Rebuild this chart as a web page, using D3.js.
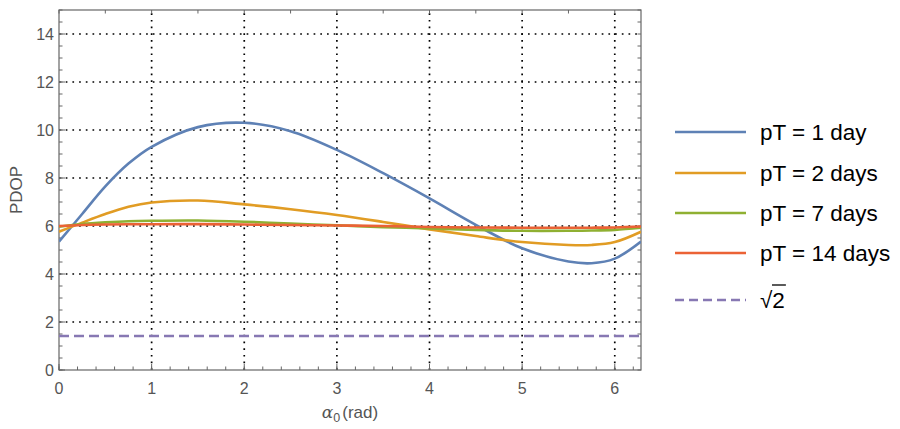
<!DOCTYPE html>
<html>
<head>
<meta charset="utf-8">
<script src="https://cdn.jsdelivr.net/npm/d3@7/dist/d3.min.js"></script>
<style>
  body { margin: 0; background: #fff; }
  text { font-family: "Liberation Sans", Arial, sans-serif; }
</style>
</head>
<body>
<script>
// sample positions (rad) and PDOP
var alphas = [0, 0.25, 0.5, 0.75, 1, 1.5, 2, 2.5, 3, 3.5, 4, 4.5, 5, 5.5, 5.75, 6, 2 * Math.PI];
var pdop1 = [5.35, 6.5, 7.65, 8.6, 9.3, 10.12, 10.3, 9.95, 9.17, 8.2, 7.15, 6.05, 5.07, 4.52, 4.45, 4.64, 5.35];
var pdop2 = [5.76, 6.14, 6.5, 6.8, 6.98, 7.06, 6.9, 6.7, 6.46, 6.17, 5.86, 5.58, 5.33, 5.21, 5.21, 5.33, 5.76];
var pdop7 = [5.97, 6.08, 6.15, 6.2, 6.22, 6.23, 6.18, 6.1, 6.03, 5.95, 5.9, 5.84, 5.8, 5.8, 5.81, 5.84, 5.93];
var pdop14 = [6.0, 6.04, 6.06, 6.07, 6.07, 6.08, 6.06, 6.04, 6.02, 6.0, 5.96, 5.94, 5.93, 5.93, 5.93, 5.94, 5.98];
var labels = ["pT = 1 day", "pT = 2 days", "pT = 7 days", "pT = 14 days"];
var colors = ["#5e81b5", "#e19c24", "#8fb032", "#eb6235"];
var refValue = Math.SQRT2;
var refColor = "#8778b3";

var xTicks = [0, 1, 2, 3, 4, 5, 6];
var yTicks = [0, 2, 4, 6, 8, 10, 12, 14];

var svgWidth = 900, svgHeight = 429;
var margin = {top: 10, left: 59, right: 259, bottom: 59};

var svg = d3.select("body").append("svg")
    .attr("width", svgWidth)
    .attr("height", svgHeight);

var x = d3.scaleLinear()
    .domain([0, 2 * Math.PI])
    .range([margin.left, svgWidth - margin.right]);

var y = d3.scaleLinear()
    .domain([0, 15])
    .range([svgHeight - margin.bottom, margin.top]);

var frameColor = "#666";
var labelColor = "#555";

// dotted grid
svg.append("g").selectAll("line.gx")
    .data(xTicks.filter(function(d){ return d > 0; }))
    .enter().append("line")
    .attr("x1", function(d){ return x(d); })
    .attr("x2", function(d){ return x(d); })
    .attr("y1", y(0)).attr("y2", y(15))
    .attr("stroke", "#000").attr("stroke-width", 1.7)
    .attr("stroke-dasharray", "1.7 5");

svg.append("g").selectAll("line.gy")
    .data(yTicks.filter(function(d){ return d > 0; }))
    .enter().append("line")
    .attr("y1", function(d){ return y(d); })
    .attr("y2", function(d){ return y(d); })
    .attr("x1", x(0)).attr("x2", x(2 * Math.PI))
    .attr("stroke", "#000").attr("stroke-width", 1.7)
    .attr("stroke-dasharray", "1.7 5");

// frame ticks (inward)
function tickLines(vals, side, len) {
    svg.append("g").selectAll("line")
        .data(vals)
        .enter().append("line")
        .attr("x1", function(d){ return side == "left" ? x(0) : side == "right" ? x(2*Math.PI) : x(d); })
        .attr("x2", function(d){ return side == "left" ? x(0) + len : side == "right" ? x(2*Math.PI) - len : x(d); })
        .attr("y1", function(d){ return side == "bottom" ? y(0) : side == "top" ? y(15) : y(d); })
        .attr("y2", function(d){ return side == "bottom" ? y(0) - len : side == "top" ? y(15) + len : y(d); })
        .attr("stroke", frameColor).attr("stroke-width", 1);
}
tickLines(d3.range(0, 6.3, 1), "bottom", 6);
tickLines(d3.range(0, 6.3, 0.2), "bottom", 3.5);
tickLines(d3.range(0, 15.01, 2), "left", 6);
tickLines(d3.range(0, 15.01, 0.5), "left", 3.5);
tickLines(d3.range(0, 6.3, 0.5), "top", 3.5);
tickLines(d3.range(0, 15.01, 0.5), "right", 3.5);

// frame
svg.append("rect")
    .attr("x", x(0)).attr("y", y(15))
    .attr("width", x(2 * Math.PI) - x(0))
    .attr("height", y(0) - y(15))
    .attr("fill", "none")
    .attr("stroke", frameColor).attr("stroke-width", 1.2);

// tick labels
svg.append("g").selectAll("text")
    .data(xTicks)
    .enter().append("text")
    .attr("x", function(d){ return x(d); })
    .attr("y", y(0) + 24)
    .attr("text-anchor", "middle")
    .attr("font-size", 16)
    .attr("fill", labelColor)
    .text(function(d){ return d; });

svg.append("g").selectAll("text")
    .data(yTicks)
    .enter().append("text")
    .attr("x", x(0) - 5)
    .attr("y", function(d){ return y(d) + 6; })
    .attr("text-anchor", "end")
    .attr("font-size", 16)
    .attr("fill", labelColor)
    .text(function(d){ return d; });

// axis titles
svg.append("text")
    .attr("transform", "translate(22," + 190 + ") rotate(-90)")
    .attr("text-anchor", "middle")
    .attr("font-size", 17)
    .attr("fill", labelColor)
    .text("PDOP");

var xt = svg.append("text")
    .attr("x", 350).attr("y", 418)
    .attr("text-anchor", "middle")
    .attr("font-size", 17)
    .attr("fill", labelColor);
xt.append("tspan").attr("font-style", "italic").attr("font-family", "DejaVu Serif").text("\u03b1");
xt.append("tspan").attr("font-size", 12.5).attr("dy", 4).text("0");
xt.append("tspan").attr("dy", -4).attr("dx", 2).text("(rad)");

// curves
var series = [pdop1, pdop2, pdop7, pdop14];
var line = d3.line()
    .x(function(d, i){ return x(alphas[i]); })
    .y(function(d){ return y(d); })
    .curve(d3.curveCatmullRom.alpha(0.5));

svg.append("clipPath").attr("id", "plotclip")
    .append("rect")
    .attr("x", x(0)).attr("y", y(15))
    .attr("width", x(2 * Math.PI) - x(0))
    .attr("height", y(0) - y(15));

var plot = svg.append("g").attr("clip-path", "url(#plotclip)");

series.forEach(function(s, i){
    plot.append("path")
        .datum(s)
        .attr("d", line)
        .attr("fill", "none")
        .attr("stroke", colors[i])
        .attr("stroke-width", 2.6);
});

plot.append("line")
    .attr("x1", x(0)).attr("x2", x(2 * Math.PI))
    .attr("y1", y(refValue)).attr("y2", y(refValue))
    .attr("stroke", refColor).attr("stroke-width", 2.6)
    .attr("stroke-dasharray", "10 5");

// legend
var legendY = [132, 173, 213, 253];
var legend = svg.append("g");
labels.forEach(function(l, i){
    legend.append("line")
        .attr("x1", 675).attr("x2", 746)
        .attr("y1", legendY[i]).attr("y2", legendY[i])
        .attr("stroke", colors[i]).attr("stroke-width", 2.6);
    legend.append("text")
        .attr("x", 760).attr("y", legendY[i] + 8)
        .attr("font-size", 22.5)
        .attr("fill", "#000")
        .text(l);
});
legend.append("line")
    .attr("x1", 675).attr("x2", 746)
    .attr("y1", 300).attr("y2", 300)
    .attr("stroke", refColor).attr("stroke-width", 2.6)
    .attr("stroke-dasharray", "9 5");
var sq = legend.append("text")
    .attr("x", 760).attr("y", 308)
    .attr("font-size", 22.5)
    .attr("fill", "#000");
sq.append("tspan").text("\u221a");
sq.append("tspan").text("2");
var sqBox = sq.node().getBBox();
legend.append("line")
    .attr("x1", 760 + 12).attr("x2", sqBox.x + sqBox.width + 1)
    .attr("y1", 285).attr("y2", 285)
    .attr("stroke", "#000").attr("stroke-width", 1.3);
</script>
</body>
</html>
